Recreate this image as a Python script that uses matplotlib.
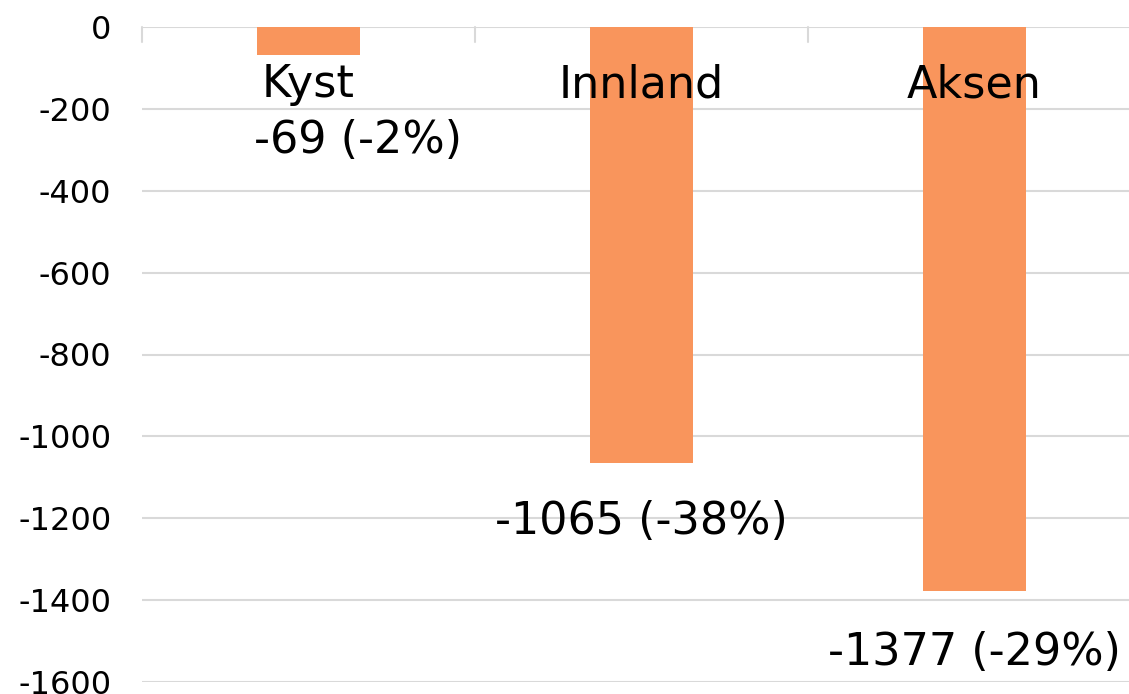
import matplotlib
matplotlib.use("Agg")
from matplotlib import pyplot as plt
import numpy as np

categories = ['Kyst', 'Innland', 'Aksen']
values = [-69, -1065, -1377]
percents = [-2, -38, -29]
yticks = [0, -200, -400, -600, -800, -1000, -1200, -1400, -1600]

bar_color = '#F9955C'
grid_color = '#D9D9D9'

W, H = 1129, 694
fig = plt.figure(figsize=(W / 100, H / 100), dpi=100)
# plot area in pixels: x 142..1141, y 27..682
ax = fig.add_axes([142 / W, 1 - 682 / H, (1141 - 142) / W, (682 - 27) / H])

x = np.arange(len(categories))
ax.bar(x, values, width=0.31, color=bar_color, zorder=2)

ax.set_xlim(-0.5, len(categories) - 0.5)
ax.set_ylim(-1600, 0)
ax.set_yticks(yticks)
ax.set_yticklabels([str(t) for t in yticks], fontsize=23)
ax.tick_params(axis='y', length=0, pad=22)
ax.set_xticks([])
ax.yaxis.grid(True, color=grid_color, linewidth=1.5, zorder=0)
ax.set_axisbelow(True)
for s in ax.spines.values():
    s.set_visible(False)

# category boundary ticks hanging from the zero line
for b in np.arange(-0.5, len(categories), 1.0):
    ax.annotate('', xy=(b, 0), xycoords='data', xytext=(0, -15), textcoords='offset pixels',
                arrowprops=dict(arrowstyle='-', color=grid_color, lw=1.5, shrinkA=0, shrinkB=0))

# category names below the zero line
for i, c in enumerate(categories):
    ax.annotate(c, xy=(i, 0), xytext=(0, -58), textcoords='offset pixels',
                ha='center', va='center', fontsize=32, zorder=3)

# value labels
label_offsets = [(49, -85), (0, -59), (0, -62)]
for i, (v, p) in enumerate(zip(values, percents)):
    dx, dy = label_offsets[i]
    ax.annotate(f'{v} ({p}%)', xy=(i, v), xytext=(dx, dy), textcoords='offset pixels',
                ha='center', va='center', fontsize=32, annotation_clip=False)

fig.savefig('out.png', dpi=100)
